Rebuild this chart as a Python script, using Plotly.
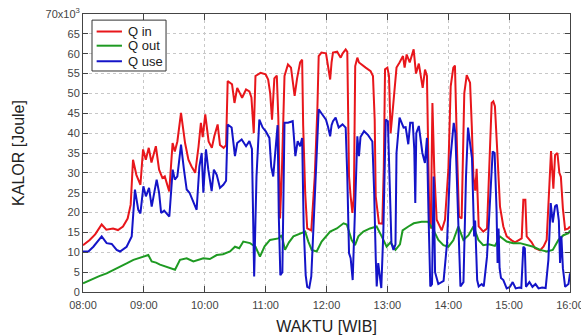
import plotly.graph_objects as go

# ---- data (minutes after 08:00, values in kJ i.e. x10^3 Joule) ----
t_in = [0, 6.6, 12, 18.4, 23, 29.6, 34.5, 39.4, 44, 47, 49.3, 52.6, 56.6, 59.2, 61.9, 64.8, 67.5, 71.8, 75, 78.3,
        80.6, 83, 85, 88.3, 90.5, 93, 96.6, 100.6, 103.9, 107, 110.6, 113.9, 116.2, 118, 120.5, 123.8, 127, 129.4,
        132.7, 135, 138.6, 141, 142.6, 146.9, 149.3, 152, 156.8, 160.7, 164, 166, 168.3, 170, 175, 180, 182.5,
        184.5, 186.3, 188.6, 191, 192.5, 194.2, 196, 198.6, 202, 205, 208.6, 211, 214, 216, 217, 219, 221, 225,
        228.4, 231, 232.3, 235, 239.5, 242, 243.6, 245, 246.4, 250.5, 254, 256, 258.9, 260.5, 262.2, 263.8, 265.5,
        267, 268.3, 270.4, 272, 278.6, 283.5, 285.8, 287.5, 288.5, 290.1, 291.7, 295, 296.5, 297.7, 300, 301.6,
        303.2, 305, 307, 309, 312, 315.4, 317, 319, 322, 324, 325.9, 328.2, 331, 334.8, 337.1, 339, 340.2, 341.4,
        342.8, 344.4, 346.3, 348.6, 353.5, 356.8, 360.1, 362.4, 365, 366.6, 368.9, 370.6, 373.2, 375.8, 378.2,
        381.5, 383.2, 384.8, 386.6, 388, 390, 394.5, 398.2, 400.5, 402.8, 404.4, 406, 408.4, 411, 414.3, 417.6,
        422.5, 425.8, 429.1, 432.4, 434, 436, 437.3, 442.2, 445.5, 450.5, 454, 457, 459.7, 461.3, 463.6, 465.3,
        467.6, 469.5, 471, 473, 475.2, 478.5, 480]
q_in = [11.8, 13.1, 14.5, 17.0, 15.7, 16.0, 15.6, 16.5, 18.5, 22, 33.3, 29.5, 27.0, 35.9, 33.3, 36.3, 32.6, 36.7, 30.8, 28.7,
        29.1, 27.0, 25.3, 37.5, 35.4, 37.9, 45.1, 37.5, 33.3, 31.6, 30.0, 36.7, 42.6, 39, 44.7, 37.9, 36.3, 39.2,
        42.2, 37, 36.3, 37, 53.1, 52.3, 47.6, 51.4, 48.9, 51, 50.5, 49, 40, 54.4, 55.2, 54.8, 53.5,
        50, 43.4, 53.8, 54.5, 44, 18.5, 30, 54.4, 57.3, 56.5, 49.4, 53.8, 57.8, 58.5, 42, 25, 16.0, 15.5,
        29, 46, 59.4, 60.3, 60.1, 56, 53.5, 57.8, 60.3, 60.5, 59.0, 60.1, 61.1, 60.5, 29.1, 24.1, 19.9,
        24, 56.9, 59, 57.8, 56.5, 55.6, 54.4, 43.4, 24.1, 20.7, 17.3, 17.2, 31.6, 56.1, 56.5, 54.4,
        40, 45, 52, 56.5, 57.8, 59.4, 56.5, 59.8, 57.8, 59.5, 61.1, 55, 57.5, 51.4, 56, 54.4, 30, 18,
        16, 47.6, 30.0, 18.2, 15.5, 18.2, 30.8, 51.8, 56.5, 57, 33.3, 19.0, 18.5, 50, 54.6,
        52.7, 41.8, 29, 25.5, 31, 16.5, 15.2, 16, 33.3, 47.6, 48, 46.8, 35, 21.5, 16.5, 14,
        13, 12.5, 13, 13.5, 23.2, 23.2, 14, 12.5, 11, 10.5, 11.5, 13.1, 27, 35.5, 26, 34.5,
        35, 30, 29, 21, 15.7, 16, 16.5]

t_use = [0, 5.3, 10.2, 18.4, 23.3, 28.3, 33.2, 36.5, 43, 48, 51.2, 54.5, 56.6, 59.5, 62, 65.1, 67.7, 70, 72.6, 75,
         77, 80, 82.4, 85.1, 88.4, 90.5, 93, 96.6, 99.5, 102.2, 105, 110.4, 112, 114.7, 117, 118.6, 121.2, 123.5,
         126.8, 129, 131.8, 135, 138.3, 141, 142.6, 146.5, 149.8, 152, 156.4, 160.7, 164, 166.5, 168.7, 171, 173.8,
         177.1, 180, 183.7, 185.5, 187.5, 190.2, 191.8, 193, 194.5, 196.5, 198.6, 202, 206.7, 209.3, 211.6, 214,
         216, 217.5, 219.5, 221, 223, 225, 226.4, 228.4, 230, 232.3, 235, 239.5, 241.6, 243.6, 245, 246.4, 249,
         252, 255.8, 258.9, 260.5, 262.2, 263.8, 265.8, 268, 270.4, 272, 273.5, 277, 281, 285.2, 287, 288.5,
         289.5, 291, 292.5, 294, 296, 298.4, 300.5, 302.6, 304, 306, 308, 309, 312, 316, 318, 320.6, 322.5, 325,
         326.5, 327.5, 328.5, 331, 334.5, 337, 339, 340.5, 342.3, 344, 345.6, 347, 350.2, 355.4, 358.8, 362,
         365.4, 367, 369, 370.6, 372, 375, 377.5, 379.5, 381.5, 383.4, 385.5, 386.5, 388.5, 390, 393, 395, 398.2,
         400.5, 403.8, 405.7, 407.6, 408.6, 409.6, 410.6, 412, 414.3, 417.6, 420.9, 423.5, 426.5, 430.1, 432,
         434, 435.5, 436.6, 440, 443, 446, 449, 452.5, 456, 458.7, 461, 463, 465.3, 467, 469, 470.2, 471.5, 473,
         475.2, 478.5, 480]
q_use = [10.2, 10.2, 11.4, 14, 12.3, 12.1, 10.6, 10.2, 11.4, 14, 25.8, 20.7, 19.8, 26.6, 24.1, 26.2, 21.5, 24.5, 28.3, 25,
         19.9, 20.5, 19.9, 19, 30.8, 28.3, 29.1, 37.1, 30.8, 25.8, 25, 21.5, 20.7, 31.6, 35, 25.0, 35.9, 30.8,
         25.4, 30.8, 29.5, 26.2, 27, 28, 42.2, 41.4, 34.2, 37.5, 38.4, 36.7, 38, 36, 3.9, 29.1, 43.4,
         41.4, 40.5, 38.8, 31.6, 29.1, 38.5, 42.0, 19, 4.2, 5, 42.6, 42.6, 43, 34.2, 38, 36.7,
         38.8, 16.5, 4.2, 1.3, 1.0, 3.9, 12.3, 22, 30, 46, 45, 43.4, 41.5, 39.2, 42.0, 43, 43.9,
         41.4, 42.2, 41.4, 29.1, 9.8, 8.5, 3.0, 20, 39.2, 34.2, 39, 40.5, 39.5, 37.9, 25, 8.9,
         1.4, 7.3, 4, 1.0, 15, 43.4, 43, 24.1, 12.3, 10.6, 12, 35, 43.9, 41.4, 41.5, 37.2, 42.6, 42.6,
         36, 22.4, 40, 41.8, 35, 32.5, 38.8, 20, 1.4, 2, 29.1, 5, 2, 2.8, 12.3, 33.3,
         42.6, 40, 25, 11, 1.4, 2.5, 29.1, 41.4, 37.6, 33.7, 14, 18, 3, 1.4, 2, 1.4, 8.9,
         20, 35.4, 35, 20.7, 7.3, 16, 6, 3.5, 3.0, 0.9, 1.3, 2.5, 0.9, 1.1, 1.0,
         11.4, 11, 1.3, 2.5, 1.3, 2, 0.9, 1.1, 1, 8.1, 22.4, 17.5, 21.6, 22, 18, 7.3, 14, 6,
         1.3, 2, 4.7]

t_out = [0, 5, 10.2, 16, 23.3, 30, 36.5, 43, 49.7, 57, 64.4, 67.7, 72, 75.9, 82.4, 87, 90.7, 95.6, 102.2, 108.8,
         114, 118.6, 125, 131.8, 138, 144.9, 149.8, 154, 158, 164.6, 170, 174.4, 179, 184.3, 192.5, 195.8, 199.1,
         203, 207.4, 214, 219, 222.1, 225.4, 230.3, 235.2, 243.6, 250.2, 256.8, 260, 264.8, 268.1, 271.4, 276.3,
         282.9, 289.4, 294.4, 299.3, 303, 308, 312.4, 315, 320.7, 326, 333.8, 340, 345.3, 350.2, 355.2, 360.1,
         365, 369.9, 374.9, 380, 384.8, 389.7, 394.5, 400, 406, 411, 417.6, 424, 430.7, 437, 443.9, 450.5, 457,
         463, 468.6, 473.5, 478.5, 480]
q_out = [2.2, 2.8, 3.5, 4, 4.7, 5.5, 6.4, 7.2, 8.1, 8.6, 9.3, 7.7, 7.4, 6.9, 6.4, 6.0, 5.6, 8.1, 8.5, 7.7,
         8.2, 8.5, 8.3, 9.3, 9.5, 10.2, 11.4, 11.0, 12.7, 12.3, 11.4, 8.9, 11.5, 13.1, 13.5, 14.3, 10.6,
         12.5, 14, 14.8, 15.2, 12.7, 10.6, 10.2, 12.7, 15.2, 16, 17.3, 17.0, 13.1, 11.8, 14, 15.2,
         16, 16.5, 14.0, 11.4, 12.5, 10.6, 12, 15.5, 16.5, 17.3, 17.7, 17.7, 15.7, 13.1, 11.8, 11.4,
         13, 16.5, 13.1, 14.3, 16.5, 13.1, 11.8, 12, 11.6, 14, 12.7, 12.3, 12.3, 11.8, 11.4, 10.6, 10.2,
         10.6, 13.1, 14.3, 14.8, 15.5]

series_names = ["Q in", "Q out", "Q use"]
series_colors = ["#e8161b", "#1e9a22", "#1414c8"]

x_tickvals = [0, 60, 120, 180, 240, 300, 360, 420, 480]
x_ticklabels = ["08:00", "09:00", "10:00", "11:00", "12:00", "13:00", "14:00", "15:00", "16:00"]
y_tickvals = [0, 5, 10, 15, 20, 25, 30, 35, 40, 45, 50, 55, 60, 65, 70]
y_ticklabels = ["0", "5", "10", "15", "20", "25", "30", "35", "40", "45", "50", "55", "60", "65",
                "70x10<sup>3</sup>"]

FONT = "Liberation Sans, Arial, sans-serif"

fig = go.Figure()
for tx, vy, nm, col in zip([t_in, t_out, t_use], [q_in, q_out, q_use], series_names, series_colors):
    fig.add_trace(go.Scatter(x=tx, y=vy, mode="lines", name=nm,
                             line=dict(color=col, width=2), showlegend=False))

# ---- legend box (drawn in paper coordinates, matching the compact original) ----
shapes = [dict(type="rect", xref="paper", yref="paper", x0=0.0185, x1=0.1705, y0=0.795, y1=0.978,
               line=dict(color="#333333", width=1), fillcolor="white", layer="above")]
annotations = []
row_y = [0.937, 0.886, 0.830]
for ry, nm, col in zip(row_y, series_names, series_colors):
    shapes.append(dict(type="line", xref="paper", yref="paper", x0=0.028, x1=0.080, y0=ry, y1=ry,
                       line=dict(color=col, width=2), layer="above"))
    annotations.append(dict(xref="paper", yref="paper", x=0.089, y=ry, text=nm, showarrow=False,
                            xanchor="left", yanchor="middle",
                            font=dict(family=FONT, size=13, color="#222222")))

fig.update_layout(
    width=581, height=336,
    margin=dict(l=83, r=11, t=14, b=44, autoexpand=False),
    paper_bgcolor="white", plot_bgcolor="white",
    font=dict(family=FONT, color="#333333", size=11),
    showlegend=False, hovermode=False,
    shapes=shapes, annotations=annotations,
)
fig.update_xaxes(
    range=[0, 480], tickvals=x_tickvals, ticktext=x_ticklabels,
    showgrid=True, gridcolor="#c8c8c8", griddash="dot", gridwidth=1,
    showline=True, linecolor="#444444", linewidth=1, mirror="ticks",
    ticks="inside", ticklen=6, tickcolor="#444444", ticklabeloverflow="allow",
    ticklabelstandoff=3,
    tickfont=dict(size=11, color="#444444"), zeroline=False, automargin=False,
    title=dict(text="WAKTU [WIB]", font=dict(size=16, color="#222222"), standoff=10),
)
fig.update_yaxes(
    range=[0, 70], tickvals=y_tickvals, ticktext=y_ticklabels,
    showgrid=True, gridcolor="#c8c8c8", griddash="dot", gridwidth=1,
    showline=True, linecolor="#444444", linewidth=1, mirror="ticks",
    ticks="inside", ticklen=5, tickcolor="#444444", ticklabeloverflow="allow",
    tickfont=dict(size=11, color="#444444"), zeroline=False, automargin=False,
    title=dict(text="KALOR [Joule]", font=dict(size=16, color="#222222"), standoff=16),
)

fig.write_html("out.html", config={"displayModeBar": False},
               post_script="document.body.style.margin='0px';")
